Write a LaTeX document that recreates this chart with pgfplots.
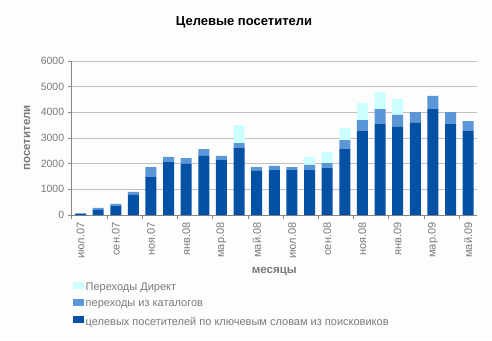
\documentclass[border=0pt]{standalone}
\usepackage{pgfplots}
\pgfplotsset{compat=1.18}
\usepackage{fontspec}
\setmainfont{Liberation Sans}
\definecolor{cDark}{HTML}{0451A5}
\definecolor{cMid}{HTML}{5B96D6}
\definecolor{cCyan}{HTML}{CCFFFF}
\definecolor{gridc}{HTML}{C0C0C0}
\definecolor{axc}{HTML}{868686}
\definecolor{txt}{HTML}{7A7A7A}
\definecolor{bg}{HTML}{FCFDFC}
\begin{document}
\begin{tikzpicture}[x=1pt,y=1pt]
\fill[bg] (0,0) rectangle (492,340);
\useasboundingbox (0,0) rectangle (492,340);
\node[font=\bfseries\fontsize{13}{15}\selectfont] at (244,318) {Целевые посетители};
\begin{axis}[
 at={(71.7pt,125pt)}, anchor=south west,
 scale only axis, width=405.3pt, height=154pt,
 ybar stacked, bar width=11pt,
 xmin=-0.5, xmax=22.5, ymin=0, ymax=6000,
 ytick={0,1000,...,6000},
 xtick={0,2,...,22},
 xticklabels={июл.07,сен.07,ноя.07,янв.08,мар.08,май.08,июл.08,сен.08,ноя.08,янв.09,мар.09,май.09},
 minor xtick={-0.5,1.5,...,22.5},
 scaled y ticks=false,
 /pgf/number format/1000 sep={},
 /pgf/number format/assume math mode=true,
 tick align=outside,
 major tick length=4pt, minor tick length=4pt,
 major x tick style={draw=none},
 minor x tick style={draw=axc, line width=0.8pt},
 y tick style={draw=axc, line width=0.8pt},
 axis x line*=bottom, axis y line*=left,
 axis line style={draw=axc, line width=0.8pt, -},
 ymajorgrids, major grid style={draw=gridc, line width=0.9pt},
 tick label style={font=\fontsize{10.5}{12}\selectfont, text=txt},
 x tick label style={rotate=90, anchor=east, font=\fontsize{11}{12}\selectfont},
 xlabel={месяцы}, ylabel={посетители},
 label style={font=\bfseries\fontsize{11.5}{13}\selectfont, text=txt},
 xlabel style={at={(axis description cs:0.5,-0.37)}, anchor=center},
 ylabel style={at={(axis description cs:-0.11,0.5)}, anchor=center},
 legend style={at={(axis description cs:0.002,-0.43)}, anchor=north west, draw=none, fill=none,
   font=\fontsize{11}{13}\selectfont, text=txt, row sep=4.5pt, inner sep=0pt},
 legend cell align=left,
 reverse legend,
 legend image code/.code={\fill[#1] (0pt,-1.5pt) rectangle (11pt,5.5pt);},
]
\addplot[fill=cDark, draw=none] coordinates {
(0,50) (1,195) (2,350) (3,780) (4,1480) (5,2065) (6,1990) (7,2300) (8,2140) (9,2610) (10,1715) (11,1750)
(12,1750) (13,1750) (14,1830) (15,2570) (16,3270) (17,3545) (18,3430) (19,3585) (20,4130) (21,3545) (22,3270)};
\addplot[fill=cMid, draw=none] coordinates {
(0,10) (1,78) (2,80) (3,120) (4,390) (5,195) (6,230) (7,270) (8,160) (9,195) (10,155) (11,160)
(12,120) (13,200) (14,195) (15,350) (16,430) (17,585) (18,470) (19,425) (20,510) (21,465) (22,390)};
\addplot[fill=cCyan, draw=none] coordinates {
(0,0) (1,0) (2,0) (3,0) (4,0) (5,0) (6,0) (7,0) (8,0) (9,700) (10,0) (11,0)
(12,0) (13,310) (14,430) (15,470) (16,660) (17,660) (18,620) (19,0) (20,0) (21,0) (22,0)};
\legend{целевых посетителей по ключевым словам из поисковиков, переходы из каталогов, Переходы Директ}
\end{axis}
\end{tikzpicture}
\end{document}
